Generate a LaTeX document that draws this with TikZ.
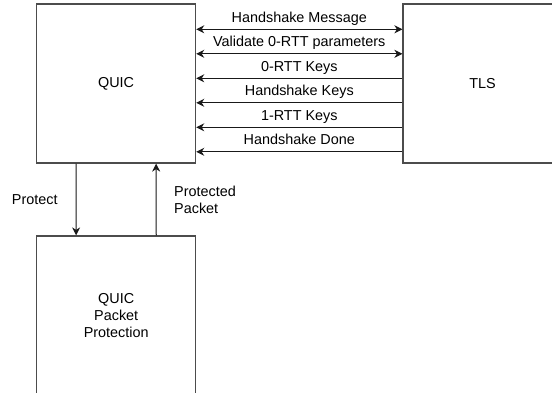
\documentclass[tikz,border=0pt]{standalone}
\usepackage{fontspec}
\setmainfont{Liberation Sans}
\usetikzlibrary{arrows.meta,calc}

\begin{document}
\begin{tikzpicture}[x=1pt,y=-1pt,font=\fontsize{14.4}{17}\selectfont,
    >={Stealth[length=8pt,width=8pt,inset=2.5pt]},
    box/.style={draw=black!70,line width=1.2pt,minimum width=159pt,minimum height=159pt,inner sep=0pt,align=center},
    msg/.style={line width=1pt,draw=black!90},
    tag/.style={inner sep=0pt,text depth=3pt},
    side/.style={inner sep=0pt,align=left}]
    \useasboundingbox (0,0) rectangle (552,393);
    \clip (0,0) rectangle (552,393);
    \node[box] (quic) at (116.1,83.5) {QUIC};
    \node[box] (tls) at (482.5,83.5) {TLS};
    \node[box] (qpp) at (116.2,315.5) {QUIC\\Packet\\Protection};
    \foreach \n/\y/\l/\s in{
    1/29.3/{Handshake Message}/<->,
    2/53.8/{Validate 0-RTT parameters}/<->,
    3/78.3/{0-RTT Keys}/->,
    4/102.8/{Handshake Keys}/->,
    5/127.3/{1-RTT Keys}/->,
    6/151.8/{Handshake Done}/->
    }
    {
        \coordinate (q\n) at (quic.east |- 0,\y);
        \coordinate (t\n) at (tls.west |- 0,\y);
        \draw[msg,\s] (t\n) -- (q\n) node[tag,midway,above=3.5pt] {\l};
    }
    \draw[msg,->] ($(quic.south west)!.25!(quic.south east)$) -- ($(qpp.north west)!.25!(qpp.north east)$)
        node[side,midway,left=18pt] {Protect};
    \draw[msg,->] ($(qpp.north west)!.75!(qpp.north east)$) -- ($(quic.south west)!.75!(quic.south east)$)
        node[side,midway,right=17.5pt] {Protected\\Packet};
\end{tikzpicture}
\end{document}
